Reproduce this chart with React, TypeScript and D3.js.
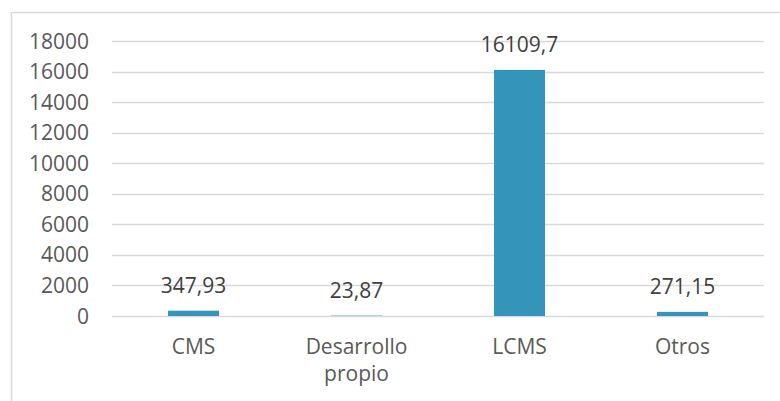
import React, { useEffect, useRef } from "react";
import * as d3 from "d3";

const categories: string[][] = [["CMS"], ["Desarrollo", "propio"], ["LCMS"], ["Otros"]];
const values: number[] = [347.93, 23.87, 16109.7, 271.15];
const valueLabels: string[] = ["347,93", "23,87", "16109,7", "271,15"];
const yTicks: number[] = [0, 2000, 4000, 6000, 8000, 10000, 12000, 14000, 16000, 18000];

const App = () => {
    const ref = useRef<SVGSVGElement | null>(null);

    useEffect(() => {
        const w = 780,
            h = 401;
        const font = "'Open Sans', sans-serif";
        const textColor = "#595959";

        const svg = d3.select(ref.current);
        svg.selectAll("*").remove();
        svg.attr("width", w).attr("height", h);

        // chart border (right and bottom fall outside the picture)
        svg.append("rect")
            .attr("x", 11.5)
            .attr("y", 12.5)
            .attr("width", 800)
            .attr("height", 420)
            .attr("fill", "#fff")
            .attr("stroke", "#d9d9d9")
            .attr("stroke-width", 1.5);

        const keys = categories.map(c => c.join(" "));
        const x = d3.scaleBand()
            .domain(keys)
            .range([112, 764])
            .paddingInner(0.687)
            .paddingOuter(0.3435);

        const y = d3.scaleLinear().domain([0, 18000]).range([316, 41]);

        // gridlines
        svg.append("g")
            .selectAll("line")
            .data(yTicks)
            .enter()
            .append("line")
            .attr("x1", 112)
            .attr("x2", 764)
            .attr("y1", d => Math.round(y(d)) + 0.5)
            .attr("y2", d => Math.round(y(d)) + 0.5)
            .attr("stroke", "#d9d9d9")
            .attr("stroke-width", 1.3);

        // y tick labels
        svg.append("g")
            .selectAll("text")
            .data(yTicks)
            .enter()
            .append("text")
            .attr("x", 89)
            .attr("y", d => y(d))
            .attr("dy", "0.36em")
            .attr("text-anchor", "end")
            .style("font-family", font)
            .style("font-size", "21px")
            .style("fill", textColor)
            .text(d => String(d));

        // bars
        svg.append("g")
            .selectAll("rect")
            .data(values)
            .enter()
            .append("rect")
            .attr("x", (d, i) => x(keys[i]) as number)
            .attr("width", x.bandwidth())
            .attr("y", d => y(d))
            .attr("height", d => y(0) - y(d))
            .attr("fill", "#3494ba");

        // value labels
        svg.append("g")
            .selectAll("text")
            .data(values)
            .enter()
            .append("text")
            .attr("x", (d, i) => (x(keys[i]) as number) + x.bandwidth() / 2)
            .attr("y", d => y(d) - 18)
            .attr("text-anchor", "middle")
            .style("font-family", font)
            .style("font-size", "21px")
            .style("fill", "#404040")
            .text((d, i) => valueLabels[i]);

        // category labels
        const cat = svg.append("g")
            .selectAll("text")
            .data(categories)
            .enter()
            .append("text")
            .attr("x", (d, i) => (x(keys[i]) as number) + x.bandwidth() / 2)
            .attr("y", 354)
            .attr("text-anchor", "middle")
            .style("font-family", font)
            .style("font-size", "21px")
            .style("fill", textColor);

        cat.selectAll("tspan")
            .data(d => d)
            .enter()
            .append("tspan")
            .attr("x", function () {
                return (this as any).parentNode.getAttribute("x");
            })
            .attr("dy", (d, i) => (i === 0 ? 0 : 27))
            .text(d => d);
    }, []);

    return (
        <div style={{ position: "absolute", left: 0, top: 0 }}>
            <svg ref={ref}></svg>
        </div>
    );
};

export default App;
